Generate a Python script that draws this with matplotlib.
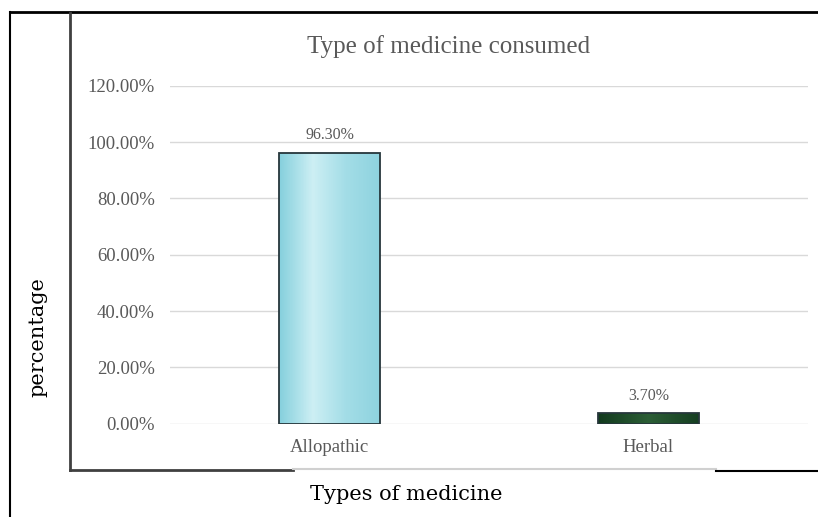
"""Bar chart: type of medicine consumed."""

import matplotlib

matplotlib.use("Agg")
import matplotlib.pyplot as plt
import numpy as np
from matplotlib.lines import Line2D

categories = ["Allopathic", "Herbal"]
percent = [96.30, 3.70]
y_ticks = [0, 20, 40, 60, 80, 100, 120]

W, H = 818, 517
GRAY = "#595959"
SERIF = "Liberation Serif"


def fx(px):
    return px / W


def fy(py):
    return 1 - py / H


fig = plt.figure(figsize=(W / 100, H / 100), dpi=100)
ax = fig.add_axes([fx(170), fy(423.5), fx(808) - fx(170), fy(86) - fy(423.5)])

x = np.arange(len(categories))
bars = ax.bar(x, percent, width=0.316, color="none", edgecolor="#26363b", linewidth=1.3, zorder=3)

# texture-ish fill: gradient clipped to each bar
fills = [
    ["#86d0dd", "#cdeff4", "#a3dde7", "#8fd3df"],
    ["#123a1e", "#2c5e36", "#163f22"],
]
for bar, cols in zip(bars, fills):
    cmap = matplotlib.colors.LinearSegmentedColormap.from_list("f", cols)
    grad = np.linspace(0, 1, 64).reshape(1, -1)
    im = ax.imshow(
        grad,
        cmap=cmap,
        aspect="auto",
        extent=(bar.get_x(), bar.get_x() + bar.get_width(), 0, bar.get_height()),
        zorder=2,
    )
    im.set_clip_path(bar)

for bar, v in zip(bars, percent):
    ax.text(bar.get_x() + bar.get_width() / 2, v + 3.4, f"{v:.2f}%", ha="center", va="bottom",
            fontsize=11.5, family=SERIF, color=GRAY)

ax.set_xlim(-0.5, len(categories) - 0.5)
ax.set_ylim(0, 120)
ax.set_yticks(y_ticks, [f"{t:.2f}%" for t in y_ticks])
ax.set_xticks(x, categories)
ax.grid(axis="y", color="#d9d9d9", linewidth=1.0, zorder=0)
ax.set_axisbelow(True)
for s in ax.spines.values():
    s.set_visible(False)
ax.tick_params(axis="both", length=0, labelsize=13.5, labelcolor=GRAY)
ax.tick_params(axis="y", pad=11)
ax.tick_params(axis="x", pad=11)
for lab in ax.get_xticklabels() + ax.get_yticklabels():
    lab.set_family(SERIF)

fig.text(fx(449), fy(47), "Type of medicine consumed", ha="center", va="center",
         fontsize=18, family=SERIF, color=GRAY)

# frame lines around the chart
frame = [
    ((10, 10), (12, H), "black", 1.5),
    ((10, W), (12, 12), "black", 2.0),
    ((70, 70), (13, 470), "#404040", 2.0),
    ((70, 293), (470, 470), "#404040", 2.0),
    ((293, 716), (469, 469), "#d0d0d0", 1.5),
    ((716, W), (471, 471), "black", 1.5),
]
for xs, ys, c, lw in frame:
    fig.add_artist(Line2D([fx(v) for v in xs], [fy(v) for v in ys], color=c, linewidth=lw))

fig.text(fx(38), fy(337), "percentage", rotation=90, ha="center", va="center",
         fontsize=15, family="DejaVu Serif", color="black")
fig.text(fx(406), fy(494), "Types of medicine", ha="center", va="center",
         fontsize=15, family="DejaVu Serif", color="black")

fig.savefig("out.png", dpi=100)
